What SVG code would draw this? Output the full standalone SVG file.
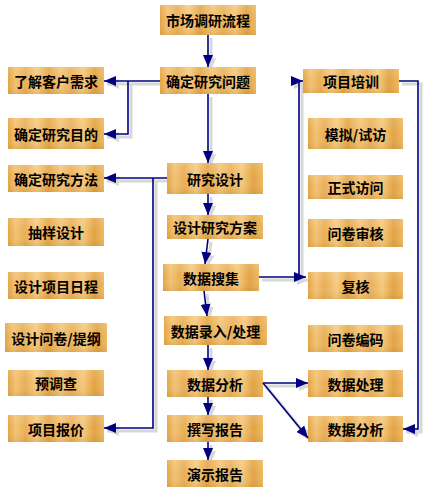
<svg xmlns="http://www.w3.org/2000/svg" width="427" height="492" viewBox="0 0 427 492">
<defs>
<linearGradient id="wood" x1="0" y1="0" x2="1" y2="0">
<stop offset="0" stop-color="#E4A443"/>
<stop offset="0.08" stop-color="#F2C273"/>
<stop offset="0.18" stop-color="#E8AE55"/>
<stop offset="0.3" stop-color="#F6CB80"/>
<stop offset="0.42" stop-color="#E3A547"/>
<stop offset="0.55" stop-color="#F3C577"/>
<stop offset="0.66" stop-color="#E9B05A"/>
<stop offset="0.78" stop-color="#F5C97C"/>
<stop offset="0.9" stop-color="#E2A242"/>
<stop offset="1" stop-color="#EDB862"/>
</linearGradient>
<linearGradient id="shade" x1="0" y1="0" x2="0" y2="1">
<stop offset="0" stop-color="#FFFFFF" stop-opacity="0.15"/>
<stop offset="0.5" stop-color="#FFFFFF" stop-opacity="0"/>
<stop offset="1" stop-color="#A06010" stop-opacity="0.15"/>
</linearGradient>
<marker id="ah" markerUnits="userSpaceOnUse" markerWidth="13" markerHeight="12" refX="12" refY="5" orient="auto" viewBox="0 0 13 12">
<path d="M0,0 L12,5 L0,10 z" fill="#000080"/>
</marker>
<marker id="ahs" markerUnits="userSpaceOnUse" markerWidth="13" markerHeight="12" refX="12" refY="5" orient="auto" viewBox="0 0 13 12">
<path d="M0,0 L12,5 L0,10 z" fill="#D8D8D8"/>
</marker>
</defs>
<style>
.box rect.b{fill:url(#wood)}
.box rect.s{fill:url(#shade)}
.box text{font-family:"Noto Sans CJK SC","Noto Sans CJK TC",sans-serif;font-size:14px;font-weight:bold;fill:#000;text-anchor:middle;dominant-baseline:central}
.c path{fill:none;stroke:#000080;stroke-width:1.6;marker-end:url(#ah)}
.cs path{fill:none;stroke:#D8D8D8;stroke-width:3;marker-end:url(#ahs)}
.c path.n,.cs path.n{marker-end:none}
</style>
<g id="connector-shadows" class="cs" transform="translate(3,3)">
<path d="M208,35 V67"/>
<path d="M160,81 H104"/>
<path d="M128,81 V134 H104"/>
<path d="M208,94 V163"/>
<path d="M167,178 H104"/>
<path d="M153,178 V428 H104"/>
<path d="M208,194 V215"/>
<path d="M208,239 L205,264"/>
<path d="M204,291 L207,316"/>
<path d="M299,277 V81 H303"/>
<path d="M259,277 H306"/>
<path d="M399,81 H418 V429 H403"/>
<path d="M208,345 V370"/>
<path d="M263,383 H308"/>
<path d="M263,383 L308,438"/>
<path d="M208,397 V415"/>
<path d="M208,442 V460"/>
</g>
<g id="nodes">
<g id="n1" class="box"><rect class="b" x="160" y="5" width="96" height="30"/><rect class="s" x="160" y="5" width="96" height="30"/><text x="208" y="20">市场调研流程</text></g>
<g id="n2" class="box"><rect class="b" x="160" y="67" width="96" height="27"/><rect class="s" x="160" y="67" width="96" height="27"/><text x="208" y="80.5">确定研究问题</text></g>
<g id="n3" class="box"><rect class="b" x="8" y="67" width="96" height="27"/><rect class="s" x="8" y="67" width="96" height="27"/><text x="56" y="80.5">了解客户需求</text></g>
<g id="n4" class="box"><rect class="b" x="8" y="118" width="96" height="31"/><rect class="s" x="8" y="118" width="96" height="31"/><text x="56" y="133.5">确定研究目的</text></g>
<g id="n5" class="box"><rect class="b" x="303" y="69" width="96" height="24"/><rect class="s" x="303" y="69" width="96" height="24"/><text x="351" y="81">项目培训</text></g>
<g id="n6" class="box"><rect class="b" x="308" y="118" width="95" height="31"/><rect class="s" x="308" y="118" width="95" height="31"/><text x="355.5" y="133.5">模拟/试访</text></g>
<g id="n7" class="box"><rect class="b" x="8" y="165" width="96" height="27"/><rect class="s" x="8" y="165" width="96" height="27"/><text x="56" y="178.5">确定研究方法</text></g>
<g id="n8" class="box"><rect class="b" x="167" y="163" width="96" height="31"/><rect class="s" x="167" y="163" width="96" height="31"/><text x="215" y="178.5">研究设计</text></g>
<g id="n9" class="box"><rect class="b" x="308" y="175" width="95" height="24"/><rect class="s" x="308" y="175" width="95" height="24"/><text x="355.5" y="187">正式访问</text></g>
<g id="n10" class="box"><rect class="b" x="167" y="215" width="96" height="24"/><rect class="s" x="167" y="215" width="96" height="24"/><text x="215" y="227">设计研究方案</text></g>
<g id="n11" class="box"><rect class="b" x="8" y="218" width="96" height="28"/><rect class="s" x="8" y="218" width="96" height="28"/><text x="56" y="232">抽样设计</text></g>
<g id="n12" class="box"><rect class="b" x="308" y="219" width="95" height="28"/><rect class="s" x="308" y="219" width="95" height="28"/><text x="355.5" y="233">问卷审核</text></g>
<g id="n13" class="box"><rect class="b" x="163" y="264" width="96" height="27"/><rect class="s" x="163" y="264" width="96" height="27"/><text x="211" y="277.5">数据搜集</text></g>
<g id="n14" class="box"><rect class="b" x="8" y="272" width="96" height="27"/><rect class="s" x="8" y="272" width="96" height="27"/><text x="56" y="285.5">设计项目日程</text></g>
<g id="n15" class="box"><rect class="b" x="308" y="272" width="95" height="27"/><rect class="s" x="308" y="272" width="95" height="27"/><text x="355.5" y="285.5">复核</text></g>
<g id="n16" class="box"><rect class="b" x="164" y="316" width="103" height="29"/><rect class="s" x="164" y="316" width="103" height="29"/><text x="215.5" y="330.5">数据录入/处理</text></g>
<g id="n17" class="box"><rect class="b" x="5" y="323" width="102" height="29"/><rect class="s" x="5" y="323" width="102" height="29"/><text x="56" y="337.5">设计问卷/提纲</text></g>
<g id="n18" class="box"><rect class="b" x="308" y="325" width="95" height="27"/><rect class="s" x="308" y="325" width="95" height="27"/><text x="355.5" y="338.5">问卷编码</text></g>
<g id="n19" class="box"><rect class="b" x="8" y="370" width="96" height="26"/><rect class="s" x="8" y="370" width="96" height="26"/><text x="56" y="383">预调查</text></g>
<g id="n20" class="box"><rect class="b" x="167" y="370" width="96" height="27"/><rect class="s" x="167" y="370" width="96" height="27"/><text x="215" y="383.5">数据分析</text></g>
<g id="n21" class="box"><rect class="b" x="308" y="370" width="95" height="27"/><rect class="s" x="308" y="370" width="95" height="27"/><text x="355.5" y="383.5">数据处理</text></g>
<g id="n22" class="box"><rect class="b" x="8" y="415" width="96" height="27"/><rect class="s" x="8" y="415" width="96" height="27"/><text x="56" y="428.5">项目报价</text></g>
<g id="n23" class="box"><rect class="b" x="167" y="415" width="96" height="27"/><rect class="s" x="167" y="415" width="96" height="27"/><text x="215" y="428.5">撰写报告</text></g>
<g id="n24" class="box"><rect class="b" x="308" y="416" width="95" height="26"/><rect class="s" x="308" y="416" width="95" height="26"/><text x="355.5" y="429">数据分析</text></g>
<g id="n25" class="box"><rect class="b" x="167" y="460" width="96" height="27"/><rect class="s" x="167" y="460" width="96" height="27"/><text x="215" y="473.5">演示报告</text></g>
</g>
<g id="connectors" class="c">
<path d="M208,35 V67"/>
<path d="M160,81 H104"/>
<path d="M128,81 V134 H104"/>
<path d="M208,94 V163"/>
<path d="M167,178 H104"/>
<path d="M153,178 V428 H104"/>
<path d="M208,194 V215"/>
<path d="M208,239 L205,264"/>
<path d="M204,291 L207,316"/>
<path d="M299,277 V81 H303"/>
<path d="M259,277 H306"/>
<path d="M399,81 H418 V429 H403"/>
<path d="M208,345 V370"/>
<path d="M263,383 H308"/>
<path d="M263,383 L308,438"/>
<path d="M208,397 V415"/>
<path d="M208,442 V460"/>
</g>
</svg>
